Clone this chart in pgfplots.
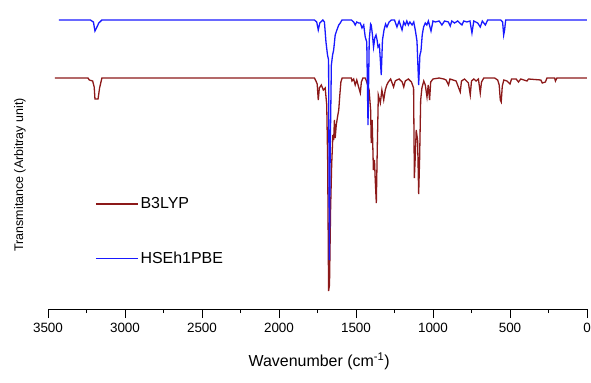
\documentclass[border=0pt]{standalone}
\usepackage{pgfplots}
\pgfplotsset{compat=1.18}
\usepackage{fontspec}
\setmainfont{Liberation Sans}
\definecolor{redl}{RGB}{140,25,25}
\definecolor{bluel}{RGB}{25,25,255}
\begin{document}
\begin{tikzpicture}
\path[use as bounding box] (-48bp,-74bp) rectangle (543bp,309bp);
\begin{axis}[
  scale only axis,
  clip=false,
  width=539bp, height=309bp,
  xmin=0, xmax=3500, ymin=1, ymax=310,
  x dir=reverse,
  axis x line*=bottom,
  axis y line=none,
  xtick={0,500,...,3500},
  minor x tick num=1,
  tick align=outside,
  xtick pos=bottom,
  major tick length=9bp,
  minor tick length=4bp,
  every tick/.style={black, line width=0.9bp},
  x axis line style={black, line width=1bp},
  /pgf/number format/assume math mode=true,
  /pgf/number format/set thousands separator={},
  xticklabel style={font=\fontsize{13.5}{15}\selectfont, yshift=-2bp},
  xlabel={Wavenumber (cm\textsuperscript{-1})},
  xlabel style={font=\fontsize{16}{18}\selectfont, at={(rel axis cs:0.503,0)}, anchor=center, yshift=-52bp},
  legend style={at={(rel axis cs:0.087,0.251)}, anchor=west, draw=none, fill=none,
    font=\fontsize{16}{18}\selectfont, row sep=38bp, inner xsep=0pt, inner ysep=0pt},
  legend cell align=left,
  legend image code/.code={\draw[#1, line width=1.5bp] (0bp,0bp) -- (42bp,0bp);},
]
\addplot[redl, line width=1.3bp] coordinates {
(3455,232) (3240,232) (3232,230) (3210,229) (3200,223) (3195,211) (3175,211) (3165,222) (3150,232)
(1770,232) (1760,229) (1752,226) (1745,210) (1738,222) (1725,225) (1712,220) (1700,222)
(1690,205) (1684,150) (1678,19) (1672,25) (1665,100) (1658,145) (1650,175) (1645,170)
(1640,190) (1635,172) (1628,185) (1620,193) (1612,200) (1605,215) (1598,228) (1590,232)
(1530,232) (1526,229) (1515,231) (1505,225) (1495,230) (1483,223) (1472,217) (1465,228)
(1455,232) (1440,232) (1430,228) (1415,220) (1405,200) (1401,167) (1395,190) (1387,140)
(1380,150) (1375,130) (1368,107) (1362,160) (1355,215) (1342,207) (1332,220) (1320,210)
(1310,220) (1300,225) (1290,228) (1275,231) (1256,223) (1245,229) (1235,230) (1220,231)
(1200,228) (1190,223) (1180,229) (1170,230) (1160,231) (1140,228) (1126,222) (1121,132)
(1116,150) (1109,180) (1100,170) (1093,116) (1087,150) (1080,210) (1072,222) (1060,229)
(1050,225) (1039,213) (1031,225) (1022,210) (1015,228) (1000,231) (960,232) (930,231)
(915,230) (899,225) (890,231) (870,230) (850,229) (823,218) (815,229) (795,231) (770,227)
(758,215) (750,229) (735,231) (720,229) (705,231) (693,217) (685,228) (670,232) (600,232)
(580,230) (570,225) (563,210) (557,208) (550,224) (540,230) (520,229) (500,226) (490,231)
(460,231) (445,228) (430,231) (390,229) (380,231) (300,230) (290,227) (270,228) (260,232)
(210,232) (205,229) (195,232) (0,232)
};
\addlegendentry{B3LYP}
\addplot[bluel, line width=1.3bp] coordinates {
(3430,290) (3225,290) (3205,288) (3195,279) (3185,282) (3170,287) (3150,290)
(1770,290) (1755,288) (1745,280) (1735,287) (1715,290) (1705,288) (1695,268) (1685,255)
(1678,250) (1673,50) (1668,150) (1660,245) (1652,255) (1645,260) (1635,275) (1624,280)
(1612,285) (1602,287) (1591,290) (1530,290) (1515,288) (1505,285) (1495,288) (1483,287)
(1472,287) (1461,282) (1450,285) (1440,273) (1430,268) (1422,185) (1414,270) (1405,286)
(1401,285) (1393,275) (1386,263) (1378,272) (1370,275) (1363,270) (1357,263) (1348,265)
(1336,235) (1328,270) (1318,280) (1308,286) (1299,283) (1285,288) (1270,290) (1250,290)
(1234,283) (1220,289) (1201,280) (1190,288) (1180,285) (1170,289) (1160,285) (1150,288)
(1136,285) (1125,288) (1115,280) (1104,269) (1093,225) (1085,255) (1078,259) (1070,275)
(1061,283) (1050,287) (1040,285) (1030,289) (1013,279) (1000,289) (985,288) (960,289)
(942,285) (925,289) (900,288) (888,284) (878,289) (860,287) (840,289) (812,285) (800,289)
(780,288) (760,289) (747,277) (735,289) (710,287) (693,283) (680,289) (660,285) (645,290)
(560,290) (548,288) (541,275) (535,280) (528,290) (0,290)
};
\addlegendentry{HSEh1PBE}
\node[rotate=90, anchor=center, font=\fontsize{12.5}{14}\selectfont, yshift=28bp]
  at (rel axis cs:0,0.434) {Transmitance (Arbitray unit)};
\end{axis}
\end{tikzpicture}
\end{document}
